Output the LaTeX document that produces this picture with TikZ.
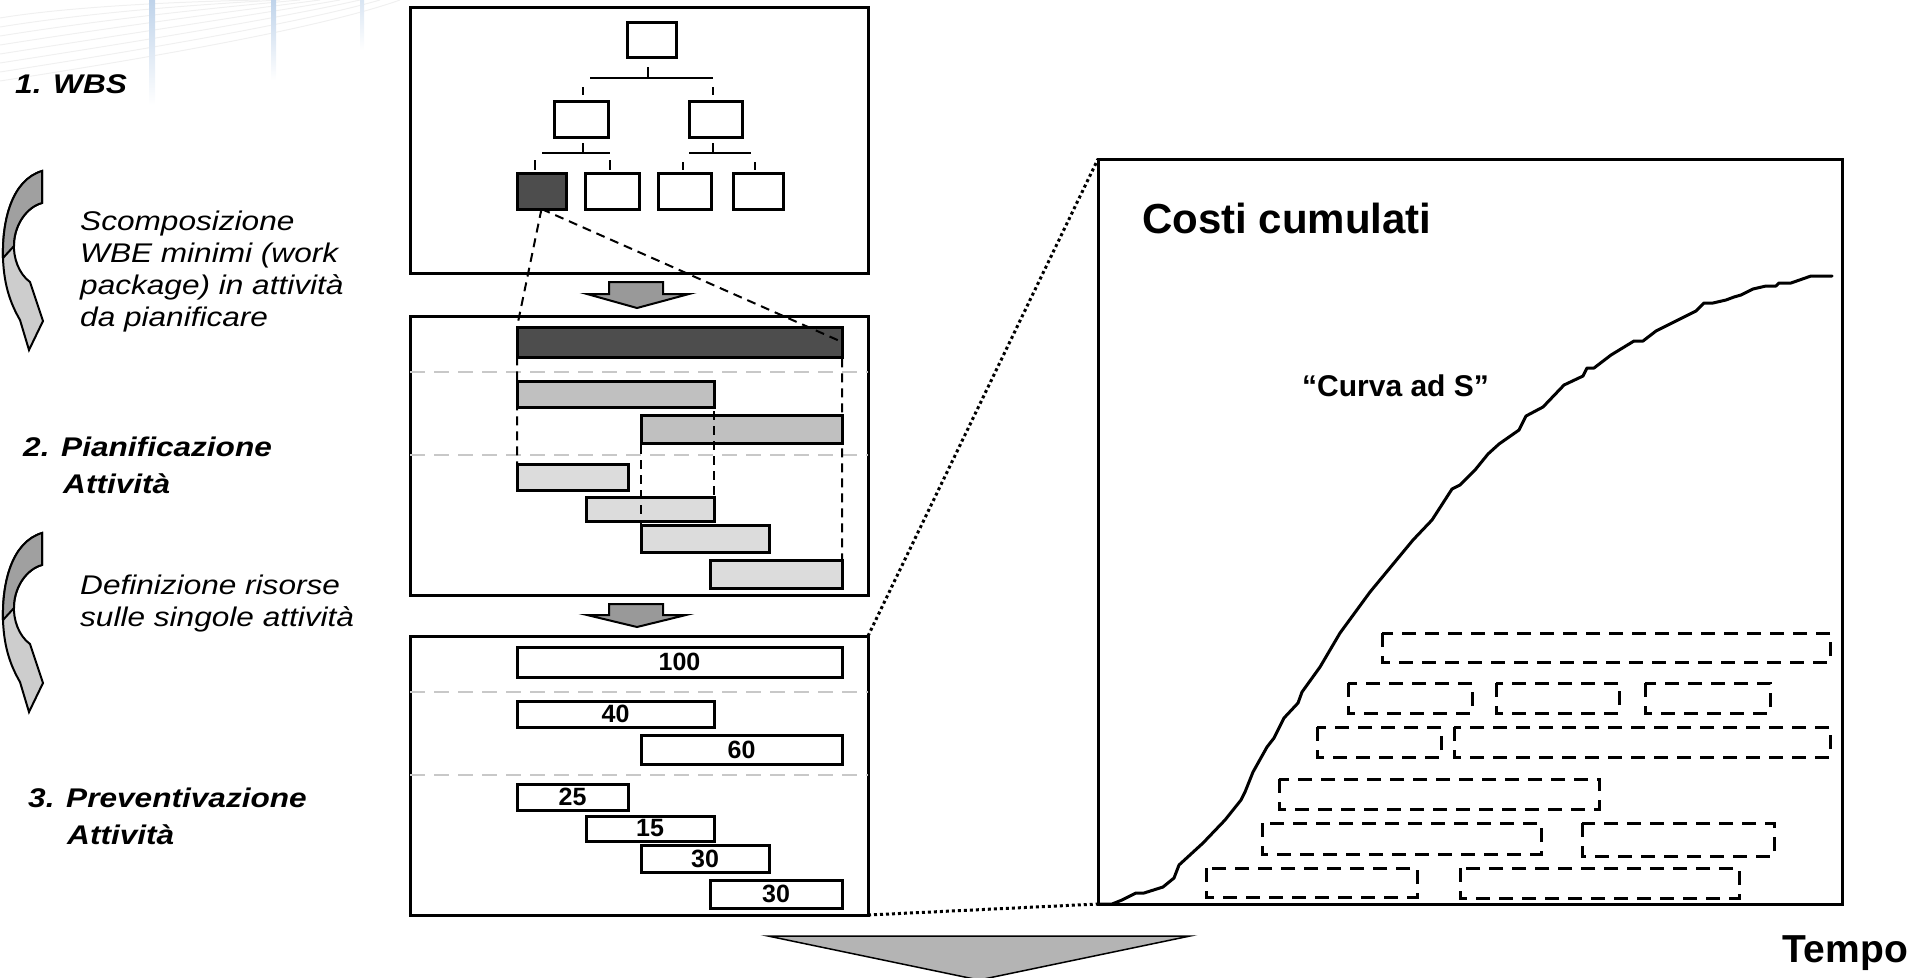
\documentclass[tikz,border=0pt]{standalone}
\usepackage{fontspec}
\setmainfont{Liberation Sans}
\newfontfamily\widefont[FakeStretch=1.17]{Liberation Sans}
\usetikzlibrary{calc}
\definecolor{darkbar}{HTML}{4D4D4D}
\definecolor{midbar}{HTML}{C0C0C0}
\definecolor{lightbar}{HTML}{DCDCDC}
\definecolor{arrowgray}{HTML}{999999}
\definecolor{bigarrow}{HTML}{B4B4B4}
\definecolor{sepgray}{HTML}{C8C8C8}
\definecolor{curvedark}{HTML}{A0A0A0}
\definecolor{curvelight}{HTML}{CDCDCD}
\definecolor{deco}{HTML}{BFD3EA}
\newcommand{\mkbar}[7]{\node[barbox, fill=#6, minimum width={(#4)*1pt-(#2)*1pt}, minimum height={(#5)*1pt-(#3)*1pt}] (#1) at (#2,#3) {#7};}
\begin{document}
\begin{tikzpicture}[x=1pt,y=-1pt,
  panel/.style={draw, line width=3pt, inner sep=0pt, outer sep=0pt, anchor=north west, fill=white},
  barbox/.style={draw, line width=3pt, inner sep=0pt, outer sep=0pt, anchor=north west, font=\fontsize{25}{28}\selectfont\bfseries},
  treeline/.style={line width=2.8pt},
  wbsline/.style={line width=2pt, dash pattern=on 9pt off 6pt},
  sepline/.style={draw=sepgray, line width=2.2pt, dash pattern=on 15pt off 9pt},
  dotline/.style={line width=3pt, dash pattern=on 3pt off 3pt},
  pkg/.style={line width=3pt, dash pattern=on 14pt off 9pt},
  blockarrow/.style={fill=arrowgray, draw, line width=2pt, line join=miter},
  heading/.style={inner sep=0pt, font=\widefont\fontsize{27}{37}\selectfont\bfseries\itshape},
  desc/.style={inner sep=0pt, font=\widefont\fontsize{27}{32}\selectfont\itshape},
  curved/.style={draw, line width=2pt, line join=miter}
]
\useasboundingbox (0,0) rectangle (1926,977);

% faint background decoration (top left)
\foreach \k in {0,...,7}{
  \draw[black!6, line width=1pt] (0,{18+\k*9}) .. controls ({60+\k*20},{8+\k*6}) and ({160+\k*25},{2+\k*3}) .. ({260+\k*20},0);
}
\shade[top color=deco, bottom color=white] (149,0) rectangle (155,105);
\shade[top color=deco, bottom color=white] (271,0) rectangle (276,80);
\shade[top color=deco!60, bottom color=white] (360,0) rectangle (364,50);

% left labels
\node[heading, anchor=base west] (lab1) at (15,93) {1. WBS};
\node[desc, anchor=base west] (desc1) at (80,230) {\begin{tabular}[t]{@{}l@{}}Scomposizione\\WBE minimi (work\\package) in attività\\da pianificare\end{tabular}};
\node[heading, anchor=base west] (lab2) at (23,456) {\begin{tabular}[t]{@{}l@{}}2. Pianificazione\\\hspace*{40pt}Attività\end{tabular}};
\node[desc, anchor=base west] (desc2) at (80,594) {\begin{tabular}[t]{@{}l@{}}Definizione risorse\\sulle singole attività\end{tabular}};
\node[heading, anchor=base west] (lab3) at (28,807) {\begin{tabular}[t]{@{}l@{}}3. Preventivazione\\\hspace*{39pt}Attività\end{tabular}};

% curved arrows
\foreach \dy/\nm in {0/ca1, 362/ca2}{
  \begin{scope}[yshift={-\dy*1pt}]
    \path[curved, fill=curvelight] (42,171) .. controls (12,180) and (2,220) .. (3,258)
      .. controls (4,288) and (12,306) .. (20,320) -- (29,350) -- (43,321) -- (30,282)
      .. controls (19,274) and (13,258) .. (14,243) .. controls (15,224) and (27,207) .. (42,203) -- cycle;
    \path[curved, fill=curvedark] (42,171) .. controls (12,180) and (2,220) .. (3,258)
      -- (14,246) -- (14,243) .. controls (15,224) and (27,207) .. (42,203) -- cycle;
    \coordinate (\nm) at (29,350);
  \end{scope}
}

% ---------- panel 1: WBS ----------
\node[panel, minimum width=458pt, minimum height=266pt] (wbs) at (410,7) {};
\node[barbox, minimum width=49pt, minimum height=35pt] (wTop) at (627,22) {};
\node[barbox, minimum width=54pt, minimum height=36pt] (wL) at (554,101) {};
\node[barbox, minimum width=53pt, minimum height=36pt] (wR) at (689,101) {};
\node[barbox, fill=darkbar, minimum width=49pt, minimum height=36pt] (wD) at (517,173) {};
\node[barbox, minimum width=54pt, minimum height=36pt] (wB2) at (585,173) {};
\node[barbox, minimum width=53pt, minimum height=36pt] (wB3) at (658,173) {};
\node[barbox, minimum width=50pt, minimum height=36pt] (wB4) at (733,173) {};
% tree connectors
\draw[treeline] (648,67) -- (648,78) (590,78) -- (713,78) (583,87) -- (583,95) (713,87) -- (713,95);
\draw[treeline] (583,143) -- (583,153) (542,153) -- (610,153) (535,160) -- (535,170) (610,160) -- (610,170);
\draw[treeline] (713,143) -- (713,153) (689,153) -- (751,153) (683,162) -- (683,170) (755,162) -- (755,170);

% arrow 1
\draw[blockarrow] (609,282) -- (663,282) -- (663,294) -- (689,294) -- (637,308) -- (587,294) -- (609,294) -- cycle;

% ---------- panel 2: Gantt ----------
\node[panel, minimum width=458pt, minimum height=279pt] (gantt) at (410,316) {};
\draw[sepline] (gantt.west |- 0,372) -- (gantt.east |- 0,372);
\draw[sepline] (gantt.west |- 0,455) -- (gantt.east |- 0,455);
\mkbar{gD}{517}{327}{842}{357}{darkbar}{}
\mkbar{gM1}{517}{381}{714}{407}{midbar}{}
\mkbar{gM2}{641}{415}{842}{443}{midbar}{}
\mkbar{gL1}{517}{464}{628}{490}{lightbar}{}
\mkbar{gL2}{586}{497}{714}{521}{lightbar}{}
\mkbar{gL3}{641}{525}{769}{552}{lightbar}{}
\mkbar{gL4}{710}{560}{842}{588}{lightbar}{}
% decomposition lines
\draw[wbsline] (wD.south) -- (gD.north west) -- (gL1.south west);
\draw[wbsline] (wD.south) -- (gD.east) -- (gL4.south east);
\draw[wbsline] (gM1.north east) -- (gL2.south east);
\draw[wbsline] (gM2.north west) -- (gL3.south west);

% arrow 2
\draw[blockarrow] (609,604) -- (663,604) -- (663,615) -- (686,615) -- (637,627) -- (587,615) -- (609,615) -- cycle;

% ---------- panel 3: costs ----------
\node[panel, minimum width=458pt, minimum height=279pt] (cost) at (410,636) {};
\draw[sepline] (cost.west |- 0,692) -- (cost.east |- 0,692);
\draw[sepline] (cost.west |- 0,775) -- (cost.east |- 0,775);
\mkbar{c100}{517}{647}{842}{677}{white}{100}
\mkbar{c40}{517}{701}{714}{727}{white}{40}
\mkbar{c60}{641}{735}{842}{764}{white}{60}
\mkbar{c25}{517}{784}{628}{810}{white}{25}
\mkbar{c15}{586}{816}{714}{841}{white}{15}
\mkbar{c30a}{641}{845}{769}{872}{white}{30}
\mkbar{c30b}{710}{880}{842}{908}{white}{30}

% big arrow
\draw[fill=bigarrow, line width=1.5pt] (768,936) -- (1190,936) -- (979,980) -- cycle;

% ---------- S-curve panel ----------
\node[panel, minimum width=744pt, minimum height=745pt] (sbox) at (1098,159) {};
\draw[dotline] (cost.north east) -- (sbox.north west);
\draw[dotline] (cost.south east) -- (sbox.south west);

\node[inner sep=0pt, anchor=base west, font=\fontsize{42}{50}\selectfont\bfseries] (costi) at (1142,233) {Costi cumulati};
\node[inner sep=0pt, anchor=base west, font=\fontsize{30}{36}\selectfont\bfseries] (curva) at (1302,396) {“Curva ad S”};
\node[inner sep=0pt, anchor=base east, font=\fontsize{39}{46}\selectfont\bfseries] (tempo) at (1908,962) {Tempo};

% work packages (dashed)
\foreach \a/\b/\c/\d in {1382/633/1830/662, 1348/683/1472/713, 1496/683/1619/713, 1645/683/1770/713,
  1317/727/1441/757, 1454/727/1830/757, 1279/779/1599/809, 1262/823/1541/854, 1582/823/1774/856,
  1206/868/1417/897, 1460/868/1739/898}{
  \draw[pkg] (\a,\b) rectangle (\c,\d);
}

% S curve
\draw[line width=3pt, line join=round, line cap=round] (sbox.south west) -- (1112,904) -- (1122,900) -- (1136,893) -- (1144,893) -- (1163,887) -- (1174,878) -- (1179,865) -- (1203,843) -- (1225,820) -- (1241,800) -- (1245,792) -- (1253,772) -- (1267,747) -- (1274,738) -- (1284,718) -- (1298,703) -- (1302,692) -- (1320,667) -- (1340,633) -- (1370,592) -- (1413,540) -- (1432,520) -- (1452,489) -- (1460,485) -- (1475,470) -- (1488,454) -- (1499,444) -- (1519,430) -- (1526,416) -- (1543,407) -- (1564,385) -- (1583,376) -- (1587,368) -- (1594,368) -- (1611,355) -- (1634,341) -- (1643,341) -- (1656,331) -- (1696,311) -- (1704,303) -- (1713,303) -- (1726,300) -- (1734,297) -- (1741,295) -- (1753,289) -- (1766,286) -- (1776,286) -- (1779,283) -- (1791,283) -- (1811,276) -- (1832,276);
\end{tikzpicture}
\end{document}
